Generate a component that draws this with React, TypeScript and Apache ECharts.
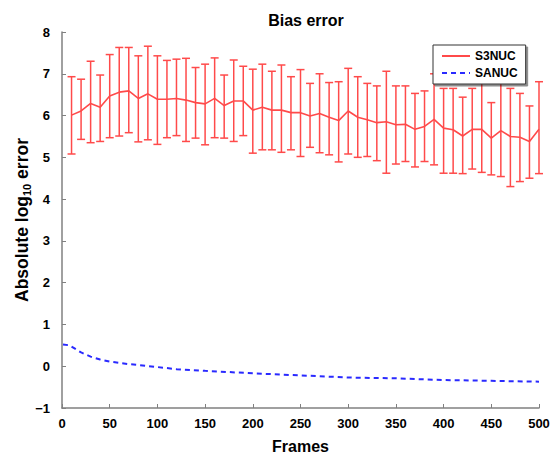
import React, { useEffect, useRef } from "react";
import * as echarts from "echarts";

const title = "Bias error";
const s3nucFrames = [10, 20, 30, 40, 50, 60, 70, 80, 90, 100, 110, 120, 130, 140, 150, 160, 170, 180, 190, 200, 210, 220, 230, 240, 250, 260, 270, 280, 290, 300, 310, 320, 330, 340, 350, 360, 370, 380, 390, 400, 410, 420, 430, 440, 450, 460, 470, 480, 490, 500];
const s3nucMean = [6.01, 6.11, 6.29, 6.2, 6.47, 6.56, 6.59, 6.41, 6.52, 6.39, 6.39, 6.41, 6.37, 6.31, 6.28, 6.41, 6.24, 6.35, 6.35, 6.13, 6.2, 6.13, 6.13, 6.07, 6.07, 5.99, 6.05, 5.96, 5.88, 6.11, 5.96, 5.9, 5.83, 5.85, 5.78, 5.79, 5.67, 5.74, 5.91, 5.7, 5.66, 5.51, 5.67, 5.67, 5.46, 5.64, 5.5, 5.48, 5.38, 5.67];
const s3nucUpper = [6.93, 6.87, 7.3, 6.97, 7.46, 7.63, 7.63, 7.43, 7.66, 7.43, 7.32, 7.35, 7.37, 7.15, 7.23, 7.38, 6.97, 7.33, 7.18, 7.11, 7.23, 7.06, 7.21, 6.93, 7.1, 6.77, 7.0, 6.79, 6.81, 7.13, 6.93, 6.77, 6.71, 7.06, 6.71, 6.71, 6.53, 6.59, 7.0, 6.65, 6.65, 6.44, 6.65, 6.95, 6.31, 6.9, 6.65, 6.53, 6.23, 6.81];
const s3nucLower = [5.08, 5.43, 5.35, 5.38, 5.47, 5.51, 5.59, 5.37, 5.42, 5.31, 5.47, 5.52, 5.38, 5.46, 5.3, 5.47, 5.46, 5.38, 5.52, 5.1, 5.18, 5.18, 5.12, 5.18, 5.02, 5.24, 5.11, 5.06, 4.89, 5.08, 5.0, 5.02, 4.92, 4.62, 4.84, 4.9, 4.77, 4.9, 4.82, 4.62, 4.62, 4.61, 4.72, 4.64, 4.58, 4.54, 4.3, 4.42, 4.5, 4.61];
const sanucFrames = [1, 8, 15, 20, 30, 40, 50, 60, 70, 80, 100, 120, 150, 175, 200, 250, 300, 350, 400, 450, 500];
const sanucValues = [0.52, 0.5, 0.4, 0.33, 0.23, 0.16, 0.11, 0.08, 0.05, 0.03, -0.02, -0.07, -0.11, -0.14, -0.17, -0.22, -0.27, -0.29, -0.33, -0.35, -0.37];
const xTicks = { min: 0, max: 500, interval: 50 };
const yTicks = { min: -1, max: 8, interval: 1 };

const FONT = "'Liberation Sans', Arial, Helvetica, sans-serif";
const RED = "#ff4a4a";
const BLUE = "#2a2aff";

export default function App() {
  const ref = useRef<HTMLDivElement>(null);
  useEffect(() => {
    if (!ref.current) return;
    const chart = echarts.init(ref.current, null, { renderer: "svg" });
    const meanData = s3nucFrames.map((f, i) => [f, s3nucMean[i]]);
    const errData = s3nucFrames.map((f, i) => [f, s3nucLower[i], s3nucUpper[i]]);
    const blueData = sanucFrames.map((f, i) => [f, sanucValues[i]]);
    chart.setOption({
      animation: false,
      backgroundColor: "#fff",
      title: {
        text: title,
        left: 301,
        textAlign: "center",
        top: 7,
        textStyle: { fontFamily: FONT, fontSize: 16, fontWeight: "bold", color: "#000" },
      },
      grid: { left: 62, right: 17, top: 32, bottom: 50 },
      legend: {
        data: ["S3NUC", "SANUC"],
        orient: "vertical",
        left: 433,
        top: 45,
        itemWidth: 28,
        itemHeight: 10,
        itemGap: 5,
        padding: [5, 8, 5, 8],
        backgroundColor: "#fff",
        borderColor: "#333",
        borderWidth: 1,
        shadowColor: "rgba(0,0,0,0.45)",
        shadowOffsetX: 2,
        shadowOffsetY: 2,
        shadowBlur: 0,
        itemStyle: { opacity: 0 },
        textStyle: { fontFamily: FONT, fontSize: 12, fontWeight: "bold", color: "#000" },
      },
      xAxis: {
        type: "value",
        min: xTicks.min,
        max: xTicks.max,
        interval: xTicks.interval,
        name: "Frames",
        nameLocation: "middle",
        nameGap: 30,
        nameMoveOverlap: false,
        nameTextStyle: { fontFamily: FONT, fontSize: 16, fontWeight: "bold", color: "#000" },
        axisLine: { onZero: false, lineStyle: { color: "#808080", width: 1.5 } },
        axisTick: { inside: true, length: 4, lineStyle: { color: "#808080" } },
        axisLabel: { fontFamily: FONT, fontSize: 13, fontWeight: "bold", color: "#000", margin: 9 },
        splitLine: { show: false },
      },
      yAxis: {
        type: "value",
        min: yTicks.min,
        max: yTicks.max,
        interval: yTicks.interval,
        name: "{a|Absolute log}{s|10}{a| error}",
        nameLocation: "middle",
        nameGap: 30,
        nameMoveOverlap: false,
        nameTextStyle: {
          fontFamily: FONT,
          fontSize: 17.5,
          fontWeight: "bold",
          color: "#000",
          rich: {
            a: { fontFamily: FONT, fontSize: 17.5, fontWeight: "bold", color: "#000" },
            s: { fontFamily: FONT, fontSize: 11, fontWeight: "bold", color: "#000", padding: [9, 0, 0, 0] },
          },
        },
        axisLine: { show: true, onZero: false, lineStyle: { color: "#808080", width: 1.5 } },
        axisTick: { show: true, inside: true, length: 4, lineStyle: { color: "#808080" } },
        axisLabel: {
          fontFamily: FONT,
          fontSize: 13,
          fontWeight: "bold",
          color: "#000",
          margin: 12,
          formatter: (v: number) => (v < 0 ? "\u2212" + Math.abs(v) : String(v)),
        },
        splitLine: { show: false },
      },
      series: [
        {
          name: "S3NUC err",
          type: "custom",
          data: errData,
          encode: { x: 0, y: [1, 2] },
          z: 2,
          renderItem: (params: any, api: any) => {
            const x = api.value(0);
            const lo = api.coord([x, api.value(1)]);
            const hi = api.coord([x, api.value(2)]);
            const hw = 4;
            const style = { stroke: RED, lineWidth: 1.5 };
            return {
              type: "group",
              children: [
                { type: "line", shape: { x1: hi[0], y1: hi[1], x2: lo[0], y2: lo[1] }, style },
                { type: "line", shape: { x1: hi[0] - hw, y1: hi[1], x2: hi[0] + hw, y2: hi[1] }, style },
                { type: "line", shape: { x1: lo[0] - hw, y1: lo[1], x2: lo[0] + hw, y2: lo[1] }, style },
              ],
            };
          },
        },
        {
          name: "S3NUC",
          type: "line",
          data: meanData,
          symbol: "none",
          z: 3,
          itemStyle: { color: RED },
          lineStyle: { color: RED, width: 1.6 },
        },
        {
          name: "SANUC",
          type: "line",
          data: blueData,
          symbol: "none",
          z: 3,
          itemStyle: { color: BLUE },
          lineStyle: { color: BLUE, width: 2, type: [5, 4] },
        },
      ],
    });
    return () => chart.dispose();
  }, []);
  return (
    <div
      ref={ref}
      style={{ position: "fixed", left: 0, top: 0, width: 556, height: 459, background: "#fff" }}
    />
  );
}
